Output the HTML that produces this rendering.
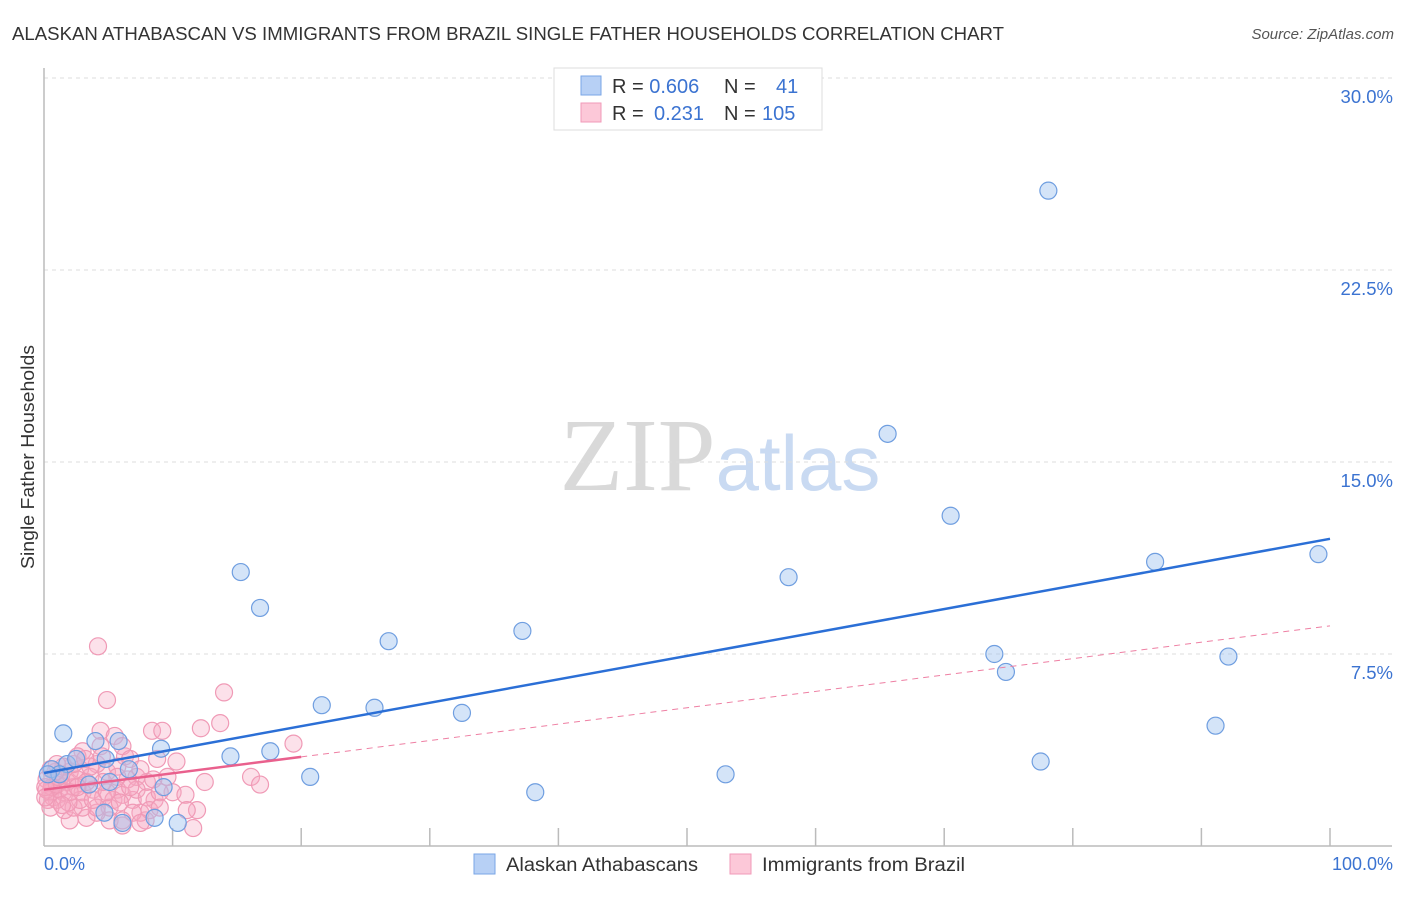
<!DOCTYPE html>
<html><head><meta charset="utf-8"><style>
body{margin:0;background:#fff;font-family:"Liberation Sans",sans-serif;}
svg text{font-family:"Liberation Sans",sans-serif;}
</style></head><body>
<svg id="chart" width="1406" height="892" viewBox="0 0 1406 892" xmlns="http://www.w3.org/2000/svg">
<text x="12" y="40" font-size="18" fill="#333" textLength="992" lengthAdjust="spacingAndGlyphs">ALASKAN ATHABASCAN VS IMMIGRANTS FROM BRAZIL SINGLE FATHER HOUSEHOLDS CORRELATION CHART</text>
<text x="1394" y="39" font-size="15" fill="#555" font-style="italic" text-anchor="end">Source: ZipAtlas.com</text>
<text x="720" y="490" font-size="104" text-anchor="middle"><tspan fill="#d9d9d9" font-family="Liberation Serif">ZIP</tspan><tspan fill="#c9daf2" font-size="78">atlas</tspan></text>
<g id="grid"></g>
<line x1="44" y1="68" x2="44" y2="846" stroke="#bbb" stroke-width="1.5"/>
<line x1="44" y1="846" x2="1392" y2="846" stroke="#bbb" stroke-width="1.5"/>
<text transform="translate(34,457) rotate(-90)" font-size="18" fill="#333" text-anchor="middle" textLength="224" lengthAdjust="spacingAndGlyphs">Single Father Households</text>
<text x="44" y="870" font-size="18" fill="#3b73d1">0.0%</text>
<text x="1393" y="870" font-size="18" fill="#3b73d1" text-anchor="end">100.0%</text>
<g id="pink"></g><g id="blue"></g><g id="lines"></g>
<g>
<rect x="554" y="68" width="268" height="62" fill="#fff" stroke="#ddd"/>
<rect x="581" y="76" width="20" height="19" fill="#b7d0f5" stroke="#7aa6e6"/>
<rect x="581" y="103" width="20" height="19" fill="#fcc8d8" stroke="#f19ab8"/>
<text x="612" y="93" font-size="20" fill="#333">R = <tspan fill="#3b73d1">0.606</tspan><tspan x="724">N =</tspan><tspan x="776" fill="#3b73d1">41</tspan></text>
<text x="612" y="120" font-size="20" fill="#333">R = <tspan x="654" fill="#3b73d1">0.231</tspan><tspan x="724">N =</tspan><tspan x="762" fill="#3b73d1">105</tspan></text>
</g>
<g>
<rect x="474" y="854" width="21" height="20" fill="#b7d0f5" stroke="#7aa6e6"/>
<text x="506" y="871" font-size="19" fill="#333" textLength="192" lengthAdjust="spacingAndGlyphs">Alaskan Athabascans</text>
<rect x="730" y="854" width="21" height="20" fill="#fcc8d8" stroke="#f19ab8"/>
<text x="762" y="871" font-size="19" fill="#333" textLength="203" lengthAdjust="spacingAndGlyphs">Immigrants from Brazil</text>
</g>
</svg>
<script>
const yTicks=[7.5,15,22.5,30];
const yTickLabels=["7.5%","15.0%","22.5%","30.0%"];
const xTicks=[10,20,30,40,50,60,70,80,90,100];
const blueX=[78.1,65.6,70.5,86.4,99.1,57.9,15.3,16.8,26.8,37.2,73.9,74.8,92.1,21.6,25.7,32.5,91.1,77.5,53.0,38.2,20.7,17.6,14.5,9.1,9.3,10.4,8.6,6.1,5.8,4.0,1.5,0.6,1.8,2.5,4.8,6.6,5.1,3.5,4.7,1.2,0.3];
const blueY=[25.6,16.1,12.9,11.1,11.4,10.5,10.7,9.3,8.0,8.4,7.5,6.8,7.4,5.5,5.4,5.2,4.7,3.3,2.8,2.1,2.7,3.7,3.5,3.8,2.3,0.9,1.1,0.9,4.1,4.1,4.4,3.0,3.2,3.4,3.4,3.0,2.5,2.4,1.3,2.8,2.8];
const pinkX=[4.2,4.9,14.0,13.7,12.2,8.4,9.2,19.4,10.3,8.8,12.5,16.1,16.8,10.0,11.0,8.6,11.9,11.1,11.6,7.9,7.5,6.1,5.1,4.1,3.3,2.0,1.6,4.4,5.5,4.4,3.0,6.3,7.2,8.0,6.5,5.7,4.9,4.1,3.6,2.8,2.0,1.2,0.7,0.5,0.3,1.0,1.5,2.3,3.0,3.8,4.6,5.4,6.1,6.9,7.2,5.1,4.1,3.0,2.3,0.7,1.2,0.2,0.2,0.6,1.0,1.8,2.6,3.3,3.6,5.7,6.1,6.7,4.5,2.3,1.5,7.5,8.0,9.0,6.9,6.1,4.9,2.8,1.9,0.5,1.1,0.9,2.6,3.2,5.7,8.5,9.6,8.2,9.0,7.5,1.0,0.5,2.0,3.8,5.9,6.7,0.1,0.1,1.4,4.6,2.6];
const pinkY=[7.8,5.7,6.0,4.8,4.6,4.5,4.5,4.0,3.3,3.4,2.5,2.7,2.4,2.1,2.0,1.8,1.4,1.4,0.7,1.0,1.3,0.8,1.0,1.3,1.1,1.0,1.4,4.5,4.3,3.9,3.7,3.5,2.7,2.5,2.6,2.2,2.9,3.2,2.7,3.0,2.9,2.6,2.3,2.1,1.8,1.8,2.1,2.3,2.1,2.2,1.9,1.8,2.0,1.8,2.2,1.5,1.5,1.5,1.5,1.9,2.2,2.6,2.2,2.3,2.4,2.5,2.6,2.5,3.1,3.1,3.9,3.4,3.5,3.2,3.1,3.0,1.9,2.1,1.3,1.0,2.1,1.8,1.7,1.5,2.7,2.9,3.5,3.4,2.7,2.6,2.7,1.4,1.5,0.9,3.2,3.0,2.1,1.8,1.7,2.3,2.3,1.9,1.6,2.5,2.3];
const blueTrend=[2.85,12.0];
const pinkTrend=[2.2,8.6];
const pinkSolidEnd=20;
const NS="http://www.w3.org/2000/svg";
const sx=v=>44+v*12.86, sy=v=>846-v*25.6;
function mk(tag,attrs,parent){const e=document.createElementNS(NS,tag);for(const k in attrs)e.setAttribute(k,attrs[k]);parent.appendChild(e);return e;}
const grid=document.getElementById('grid');
yTicks.forEach((t,i)=>{
 const l=mk('line',{x1:44,x2:1392,y1:sy(t),y2:sy(t),stroke:'#ddd','stroke-dasharray':'4,4'},grid);
 
 
 const tx=mk('text',{x:1393,y:sy(t)+25,'font-size':18.5,fill:'#3b73d1','text-anchor':'end'},grid);
 tx.textContent=yTickLabels[i];
 
 
});
xTicks.forEach(t=>{
 const l=mk('line',{x1:sx(t),x2:sx(t),y1:828,y2:846,stroke:'#bbb','stroke-width':1.5},grid);
 
 
});
const pg=document.getElementById('pink');
pinkX.forEach((x,i)=>{
 const c=mk('circle',{cx:sx(x),cy:sy(pinkY[i]),r:8.5,fill:'rgba(246,170,196,0.35)',stroke:'#f09ab6','stroke-width':1.2},pg);
 
 
});
const bg=document.getElementById('blue');
blueX.forEach((x,i)=>{
 const c=mk('circle',{cx:sx(x),cy:sy(blueY[i]),r:8.5,fill:'rgba(160,195,240,0.45)',stroke:'#6f9ee0','stroke-width':1.2},bg);
 
 
});
const lg=document.getElementById('lines');
const pAt=x=>pinkTrend[0]+(pinkTrend[1]-pinkTrend[0])*x/100;
const bl=mk('line',{x1:sx(0),y1:sy(blueTrend[0]),x2:sx(100),y2:sy(blueTrend[1]),stroke:'#2b6fd6','stroke-width':2.5},lg);


const pd=mk('line',{x1:sx(pinkSolidEnd),y1:sy(pAt(pinkSolidEnd)),x2:sx(100),y2:sy(pinkTrend[1]),stroke:'#ee7fa3','stroke-width':1,'stroke-dasharray':'6,5'},lg);


const ps=mk('line',{x1:sx(0),y1:sy(pinkTrend[0]),x2:sx(pinkSolidEnd),y2:sy(pAt(pinkSolidEnd)),stroke:'#e9608d','stroke-width':2.5},lg);


</script>
</body></html>
